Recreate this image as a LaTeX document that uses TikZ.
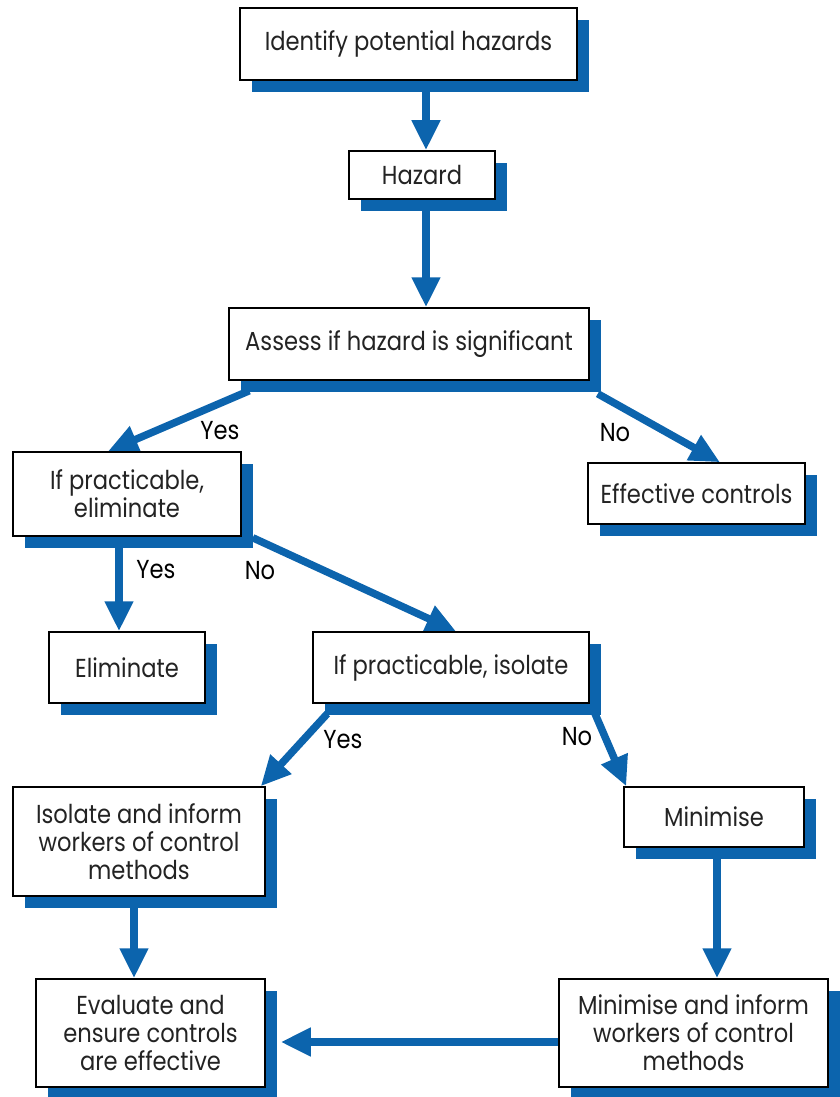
\documentclass[tikz,border=0pt]{standalone}
\usepackage{fontspec}
\setmainfont{Poppins}
\newfontfamily\boxfont{Poppins}[FakeStretch=0.87]
\usetikzlibrary{arrows.meta,shadows,calc}
\definecolor{sblue}{RGB}{12,100,173}
\definecolor{txt}{RGB}{35,35,35}
\pgfdeclarelayer{background}
\pgfsetlayers{background,main}
\begin{document}
\begin{tikzpicture}[x=1pt,y=-1pt,
  box/.style={draw=black, line width=1.5pt, fill=white, inner sep=0pt,
    align=center, text=txt, font=\boxfont\fontsize{26}{28}\selectfont,
    drop shadow={shadow xshift=12pt, shadow yshift=-12pt, fill=sblue, opacity=1}},
  lbl/.style={inner sep=0pt, text=black, font=\boxfont\fontsize{26}{28}\selectfont},
  conn/.style={draw=sblue, line width=7.5pt, -{Triangle[width=27pt,length=30pt]}}
]
\useasboundingbox (0,0) rectangle (840,1097);
\node[box, minimum width=337pt, minimum height=72pt] (ident) at (408.5,44) {Identify potential hazards};
\node[box, minimum width=146pt, minimum height=48pt] (hazard) at (422,175) {Hazard};
\node[box, minimum width=360pt, minimum height=72pt] (assess) at (409,344) {Assess if hazard is significant};
\node[box, minimum width=228pt, minimum height=84pt] (ifelim) at (127,494) {If practicable,\\eliminate};
\node[box, minimum width=156pt, minimum height=71pt] (elim) at (127,667.5) {Eliminate};
\node[box, minimum width=217pt, minimum height=61pt] (effect) at (696.5,493.5) {Effective controls};
\node[box, minimum width=276pt, minimum height=71pt] (ifiso) at (451,667.5) {If practicable, isolate};
\node[box, minimum width=252pt, minimum height=109pt] (isoinf) at (139,841.5) {Isolate and inform\\workers of control\\methods};
\node[box, minimum width=180pt, minimum height=60pt] (minim) at (714,817) {Minimise};
\node[box, minimum width=229pt, minimum height=108pt] (evalu) at (150.5,1033) {Evaluate and\\ensure controls\\are effective};
\node[box, minimum width=269pt, minimum height=108pt] (mininf) at (693.5,1033) {Minimise and inform\\workers of control\\methods};

\node[lbl] (y1) at (220,431) {Yes};
\node[lbl] (n1) at (615,433) {No};
\node[lbl] (y2) at (156,570) {Yes};
\node[lbl] (n2) at (260,571) {No};
\node[lbl] (y3) at (343,740) {Yes};
\node[lbl] (n3) at (577,737) {No};

\begin{pgfonlayer}{background}
\draw[conn] ($(ident.south)+(17.5,0)$) -- ($(hazard.north)+(4,0)$);
\draw[conn] ($(hazard.south)+(4,0)$) -- ($(assess.north)+(17,0)$);
\draw[conn] ($(assess.south west)+(21,10)$) -- ($(ifelim.north)+(-19,0)$);
\draw[conn] ($(assess.south east)+(8,13)$) -- ($(effect.north)+(23.5,0)$);
\draw[conn] ($(ifelim.south)+(-8,0)$) -- ($(elim.north)+(-8,0)$);
\draw[conn] ($(ifelim.south east)+(11,1)$) -- ($(ifiso.north)+(5,0)$);
\draw[conn] ($(ifiso.south west)+(15,10)$) -- ($(isoinf.north east)+(-5,0)$);
\draw[conn] ($(ifiso.south east)+(4,7)$) -- ($(minim.north west)+(3,0)$);
\draw[conn] ($(isoinf.south)+(-5,0)$) -- ($(evalu.north)+(-16.5,0)$);
\draw[conn] ($(minim.south)+(3,0)$) -- ($(mininf.north)+(23.5,0)$);
\draw[conn] ($(mininf.west)+(0,9)$) -- ($(evalu.east)+(15,9)$);
\end{pgfonlayer}
\end{tikzpicture}
\end{document}
